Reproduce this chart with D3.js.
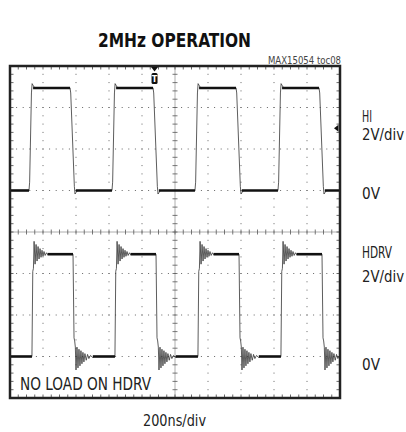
<!DOCTYPE html>
<html>
    <head>
        <title>2MHz operation scope shot</title>
        <script src="https://d3js.org/d3.v7.min.js"></script>
        <style>
            body { margin: 0; background: #fff; }
            text { font-family: "DejaVu Sans", sans-serif; font-stretch: condensed; }
        </style>
    </head>
    <body>
        <svg id="scope" width="406" height="432"></svg>

        <script>
            // edge times in ns (start of each transition)
            const hiRise = [115, 618, 1121, 1624];
            const hiFall = [364, 867, 1370, 1873];
            const hdrvRise = [133, 636, 1139, 1642];
            const hdrvFall = [382, 885, 1388, 1891];

            // edge shapes: [ns after edge start, volts]
            const hiRiseShape = [[0, 0], [4, 0.4], [15, 4.7], [19, 5.15], [24, 5.08], [35, 4.94]];
            const hiFallShape = [[0, 4.94], [4, 4.7], [26, 0.2], [30, -0.17], [36, -0.1], [45, 0]];
            const hdrvRiseShape = [[0, 0], [5, 4.1], [9, 4.25], [13, 5.55], [19, 4.45], [25, 5.4], [31, 4.6],
                [37, 5.3], [43, 4.7], [49, 5.2], [55, 4.78], [61, 5.12], [67, 4.83], [73, 5.06], [80, 4.87],
                [88, 5.0], [96, 4.9], [105, 4.93]];
            const hdrvFallShape = [[0, 4.93], [6, 0.9], [10, 0.75], [14, 0.45], [18, -0.65], [24, 0.45],
                [30, -0.55], [36, 0.35], [42, -0.45], [48, 0.28], [54, -0.35], [60, 0.2], [66, -0.26],
                [72, 0.14], [80, -0.18], [88, 0.1], [96, -0.1], [106, 0.05], [118, -0.04], [130, 0]];

            const hiHigh = 4.94, hdrvHigh = 4.93;
            const hiZeroDiv = 1, hdrvZeroDiv = -3;   // where each 0V marker sits, in divisions
            const voltsPerDiv = 2;
            const triggerTime = 876, triggerLevel = 3.0;

            const rightLabels = [
                {text: "HI", y: 122, w: 10}, {text: "2V/div", y: 140, w: 42}, {text: "0V", y: 199, w: 18},
                {text: "HDRV", y: 258, w: 30}, {text: "2V/div", y: 282, w: 42}, {text: "0V", y: 370, w: 18}
            ];

            const svg = d3.select("#scope");
            const L = 10, R = 340, T = 66, B = 398;

            const x = d3.scaleLinear().domain([0, 2000]).range([L, R]);
            const y = d3.scaleLinear().domain([-4, 4]).range([B, T]);

            // grid
            const grid = svg.append("g");
            const majX = x.ticks(10), majY = y.ticks(8);
            const minX = x.ticks(50), minY = y.ticks(40);
            const stepX = x(200) - x(0), stepY = y(-4) - y(-3);

            majY.filter(d => d != 0 && d != -4 && d != 4).forEach(d => {
                grid.append("line")
                    .attr("x1", L).attr("x2", R).attr("y1", y(d)).attr("y2", y(d))
                    .attr("stroke", "#666").attr("stroke-width", 1)
                    .attr("stroke-dasharray", `1 ${stepX / 5 - 1}`)
                    .attr("stroke-dashoffset", 0.5);
            });
            majX.filter(d => d != 1000 && d != 0 && d != 2000).forEach(d => {
                grid.append("line")
                    .attr("y1", T).attr("y2", B).attr("x1", x(d)).attr("x2", x(d))
                    .attr("stroke", "#666").attr("stroke-width", 1)
                    .attr("stroke-dasharray", `1 ${stepY / 5 - 1}`)
                    .attr("stroke-dashoffset", 0.5);
            });

            // center cross with minor ticks
            grid.append("line").attr("x1", L).attr("x2", R).attr("y1", y(0)).attr("y2", y(0))
                .attr("stroke", "#999").attr("stroke-width", 0.8);
            grid.append("line").attr("x1", x(1000)).attr("x2", x(1000)).attr("y1", T).attr("y2", B)
                .attr("stroke", "#999").attr("stroke-width", 0.8);
            grid.selectAll(".hx").data(minX).join("line")
                .attr("x1", d => x(d)).attr("x2", d => x(d))
                .attr("y1", y(0) - 2.5).attr("y2", y(0) + 2.5)
                .attr("stroke", "#555").attr("stroke-width", 0.8);
            grid.selectAll(".vy").data(minY).join("line")
                .attr("y1", d => y(d)).attr("y2", d => y(d))
                .attr("x1", x(1000) - 2.5).attr("x2", x(1000) + 2.5)
                .attr("stroke", "#555").attr("stroke-width", 0.8);

            // border ticks
            [[T, 1], [B, -1]].forEach(([yy, s]) => {
                grid.selectAll(null).data(minX).join("line")
                    .attr("x1", d => x(d)).attr("x2", d => x(d))
                    .attr("y1", yy).attr("y2", yy + s * 3.5)
                    .attr("stroke", "#444").attr("stroke-width", 0.8);
            });
            [[L, 1], [R, -1]].forEach(([xx, s]) => {
                grid.selectAll(null).data(minY).join("line")
                    .attr("y1", d => y(d)).attr("y2", d => y(d))
                    .attr("x1", xx).attr("x2", xx + s * 3.5)
                    .attr("stroke", "#444").attr("stroke-width", 0.8);
            });

            // traces
            svg.append("clipPath").attr("id", "clip")
                .append("rect").attr("x", L).attr("y", T).attr("width", R - L).attr("height", B - T);

            function buildTrace(rises, falls, riseShape, fallShape) {
                let pts = [[-50, 0]];
                rises.forEach((r, i) => {
                    riseShape.forEach(p => pts.push([r + p[0], p[1]]));
                    fallShape.forEach(p => pts.push([falls[i] + p[0], p[1]]));
                });
                pts.push([2100, 0]);
                return pts;
            }

            function plateaus(rises, falls, riseShape, fallShape, high) {
                let segs = [];
                let prev = -50;
                rises.forEach((r, i) => {
                    segs.push([prev, r, 0]);
                    segs.push([r + riseShape[riseShape.length - 1][0] - 10, falls[i], high]);
                    prev = falls[i] + fallShape[fallShape.length - 1][0] - 10;
                });
                segs.push([prev, 2100, 0]);
                return segs;
            }

            const traces = [
                {rise: hiRise, fall: hiFall, rs: hiRiseShape, fs: hiFallShape, high: hiHigh, zero: hiZeroDiv},
                {rise: hdrvRise, fall: hdrvFall, rs: hdrvRiseShape, fs: hdrvFallShape, high: hdrvHigh, zero: hdrvZeroDiv}
            ];

            const tg = svg.append("g").attr("clip-path", "url(#clip)");
            traces.forEach(t => {
                const yv = v => y(t.zero + v / voltsPerDiv);
                const line = d3.line().x(d => x(d[0])).y(d => yv(d[1]));
                tg.append("path")
                    .attr("d", line(buildTrace(t.rise, t.fall, t.rs, t.fs)))
                    .attr("fill", "none").attr("stroke", "#333").attr("stroke-width", 0.8);
                tg.selectAll(null).data(plateaus(t.rise, t.fall, t.rs, t.fs, t.high)).join("line")
                    .attr("x1", d => x(d[0])).attr("x2", d => x(d[1]))
                    .attr("y1", d => yv(d[2])).attr("y2", d => yv(d[2]))
                    .attr("stroke", "#111").attr("stroke-width", 2.6);
            });

            // frame
            svg.append("rect").attr("x", L).attr("y", T).attr("width", R - L).attr("height", B - T)
                .attr("fill", "none").attr("stroke", "#222").attr("stroke-width", 2.5);

            // trigger markers
            const tx = x(triggerTime);
            svg.append("path")
                .attr("d", `M${tx - 3.5},${T + 1} L${tx + 3.5},${T + 1} L${tx},${T + 5.5} Z`)
                .attr("fill", "#111");
            svg.append("rect").attr("x", tx - 3).attr("y", T + 7).attr("width", 6).attr("height", 11)
                .attr("rx", 1.5).attr("fill", "#111");
            svg.append("text").attr("x", tx).attr("y", T + 16).attr("text-anchor", "middle")
                .attr("font-size", 9).attr("font-weight", "bold").attr("fill", "#fff").text("T");
            const ly = y(hiZeroDiv + triggerLevel / voltsPerDiv);
            svg.append("path")
                .attr("d", `M${R - 6},${ly} L${R - 1.5},${ly - 3.5} L${R - 1.5},${ly + 3.5} Z`)
                .attr("fill", "#111");

            // texts (widths fitted to the reference)
            svg.append("text").attr("x", 98).attr("y", 47)
                .attr("font-size", 19).attr("font-weight", "bold").attr("fill", "#111")
                .attr("textLength", 153).attr("lengthAdjust", "spacingAndGlyphs")
                .text("2MHz OPERATION");
            svg.append("text").attr("x", 268).attr("y", 64)
                .attr("font-size", 10.5).attr("fill", "#444")
                .attr("textLength", 73).attr("lengthAdjust", "spacingAndGlyphs")
                .text("MAX15054 toc08");

            svg.selectAll(".rl").data(rightLabels).join("text")
                .attr("x", 362).attr("y", d => d.y)
                .attr("font-size", 15).attr("fill", "#222")
                .attr("textLength", d => d.w).attr("lengthAdjust", "spacingAndGlyphs")
                .text(d => d.text);

            svg.append("rect").attr("x", 18).attr("y", 372).attr("width", 136).attr("height", 22)
                .attr("fill", "#fff");
            svg.append("text").attr("x", 20).attr("y", 390)
                .attr("font-size", 18).attr("fill", "#222")
                .attr("textLength", 131).attr("lengthAdjust", "spacingAndGlyphs")
                .text("NO LOAD ON HDRV");

            svg.append("text").attr("x", 143).attr("y", 426)
                .attr("font-size", 16).attr("fill", "#222")
                .attr("textLength", 63).attr("lengthAdjust", "spacingAndGlyphs")
                .text("200ns/div");
        </script>
    </body>
</html>
